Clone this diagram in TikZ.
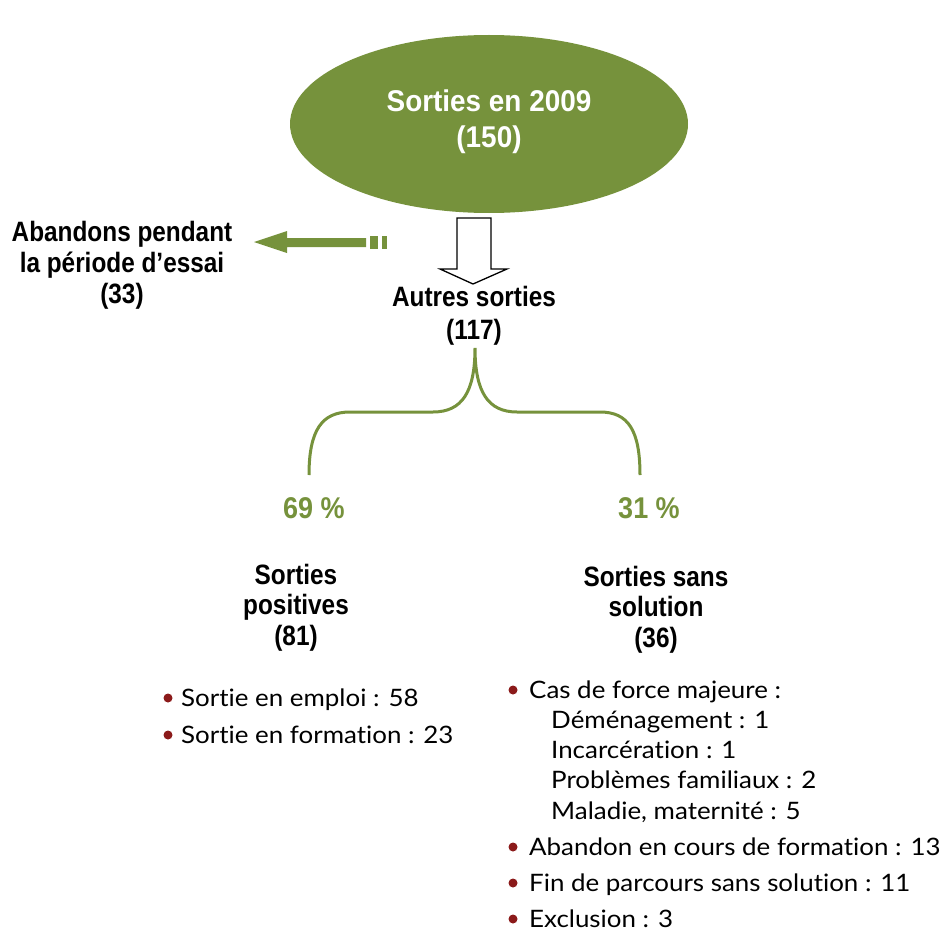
\documentclass[tikz,border=0pt]{standalone}
\usepackage{fontspec}
\usetikzlibrary{shapes.geometric}
\setmainfont{Lato}[Ligatures={NoCommon}, FakeStretch=1.08]
\newfontfamily\hfont[FakeStretch=0.87]{Liberation Sans}
\newfontfamily\efont[FakeStretch=0.93]{Liberation Sans}
\newfontfamily\pfont[FakeStretch=0.9]{Liberation Sans}
\definecolor{olive}{HTML}{76923C}
\definecolor{bul}{HTML}{8B1A1A}
\tikzset{
  head/.style={font=\hfont\bfseries\fontsize{28}{32}\selectfont, inner sep=0pt, anchor=base},
  ehead/.style={font=\efont\bfseries\fontsize{30}{34}\selectfont, inner sep=0pt, anchor=base, text=white},
  pct/.style={font=\pfont\bfseries\fontsize{30}{34}\selectfont, inner sep=0pt, anchor=base, text=olive},
  item/.style={font=\fontsize{24}{28}\selectfont, inner sep=0pt, anchor=base west},
  dotb/.style={fill=bul},
}
\begin{document}
\begin{tikzpicture}[x=1pt,y=-1pt]
\path[use as bounding box] (0,0) rectangle (942,931);
% ellipse
\node[ellipse, fill=olive, minimum width=398pt, minimum height=178pt, inner sep=0pt] (e) at (489,124) {};
\node[ehead] (e1) at (489,112) {Sorties en 2009};
\node[ehead] (e2) at (489,147) {(150)};
% hollow down arrow
\draw[line width=1.3pt, line join=miter] (457,218) -- (491,218) -- (491,269) -- (507,269) -- (473,284) -- (440,269) -- (457,269) -- cycle;
% green left arrow
\fill[olive] (254,242) -- (287,231) -- (287,238) -- (366,238) -- (366,247) -- (287,247) -- (287,253) -- cycle;
\fill[olive] (370,236) rectangle (378,249);
\fill[olive] (382,236) rectangle (387,249);
% abandons
\node[head] (a1) at (122,241) {Abandons pendant};
\node[head] (a2) at (122,272) {la période d’essai};
\node[head] (a3) at (122,303) {(33)};
% autres sorties
\node[head] (o1) at (474,306) {Autres sorties};
\node[head] (o2) at (474,339) {(117)};
% brace
\coordinate (bt) at (475,348);
\coordinate (bl) at (309,475);
\coordinate (br) at (640,475);
\draw[olive, line width=3pt] (bl) .. controls (309,430) and (322,412) .. (350,412) -- (433,412) .. controls (462,412) and (475,392) .. (bt)
  .. controls (475,392) and (488,412) .. (517,412) -- (600,412) .. controls (628,412) and (640,430) .. (br);
% percentages
\node[pct] (p1) at (314,518) {69 \%};
\node[pct] (p2) at (649,518) {31 \%};
% categories
\node[head] (s1) at (296,584) {Sorties};
\node[head] (s2) at (296,614) {positives};
\node[head] (s3) at (296,645) {(81)};
\node[head] (t1) at (656,586) {Sorties sans};
\node[head] (t2) at (656,616) {solution};
\node[head] (t3) at (656,647) {(36)};
% left list
\fill[dotb] (168,698) circle (4.5);
\node[item] (l1) at (181,706) {Sortie en emploi : 58};
\fill[dotb] (168,735) circle (4.5);
\node[item] (l2) at (181,743) {Sortie en formation : 23};
% right list
\fill[dotb] (513,690) circle (4.5);
\node[item] (r1) at (529,698) {Cas de force majeure :};
\node[item] (r2) at (551,728) {Déménagement : 1};
\node[item] (r3) at (551,758) {Incarcération : 1};
\node[item] (r4) at (551,788) {Problèmes familiaux : 2};
\node[item] (r5) at (551,819) {Maladie, maternité : 5};
\fill[dotb] (513,847) circle (4.5);
\node[item] (r6) at (529,855) {Abandon en cours de formation : 13};
\fill[dotb] (513,883) circle (4.5);
\node[item] (r7) at (529,891) {Fin de parcours sans solution : 11};
\fill[dotb] (513,919) circle (4.5);
\node[item] (r8) at (529,927) {Exclusion : 3};
\end{tikzpicture}
\end{document}
